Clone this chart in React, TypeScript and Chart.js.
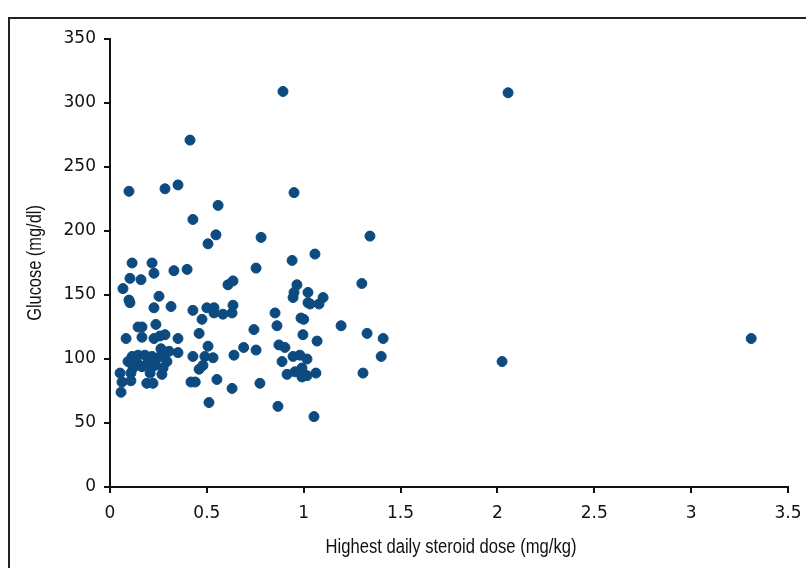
import React, { useEffect, useRef } from "react";
import { Chart, registerables } from "chart.js";

Chart.register(...registerables);

// Highest daily steroid dose (mg/kg)
const doseValues: number[] = [
  0.893, 2.055, 0.413, 0.098, 0.284, 0.351, 0.95, 0.428, 0.558, 0.547,
  0.506, 0.78, 1.342, 1.058, 0.94, 0.114, 0.217, 0.227, 0.33, 0.398,
  0.103, 0.16, 0.067, 0.253, 0.098, 0.103, 0.227, 0.315, 0.428, 0.5,
  0.537, 0.537, 0.583, 0.63, 0.635, 0.609, 0.635, 0.754, 0.965, 0.95,
  0.945, 1.022, 1.022, 1.1, 1.033, 1.079, 1.3, 0.475, 0.237, 0.145,
  0.165, 0.165, 0.227, 0.258, 0.284, 0.083, 0.351, 0.46, 0.852, 0.862,
  0.986, 1.0, 0.996, 0.743, 1.193, 1.069, 1.327, 1.41, 1.4, 1.306,
  0.506, 0.263, 0.305, 0.351, 0.428, 0.49, 0.532, 0.46, 0.48, 0.114,
  0.145, 0.18, 0.217, 0.248, 0.279, 0.294, 0.093, 0.139, 0.19, 0.232,
  0.274, 0.119, 0.165, 0.052, 0.108, 0.207, 0.268, 0.062, 0.108, 0.19,
  0.222, 0.057, 0.418, 0.44, 0.511, 0.69, 0.754, 0.64, 0.872, 0.903,
  0.945, 0.98, 1.017, 0.888, 0.914, 0.955, 0.991, 0.991, 1.017, 1.063,
  0.552, 0.774, 0.63, 0.867, 1.053, 2.024, 3.31,
];

// Glucose (mg/dl)
const glucoseValues: number[] = [
  309, 308, 271, 231, 233, 236, 230, 209, 220, 197,
  190, 195, 196, 182, 177, 175, 175, 167, 169, 170,
  163, 162, 155, 149, 146, 144, 140, 141, 138, 140,
  140, 136, 135, 136, 142, 158, 161, 171, 158, 152,
  148, 152, 144, 148, 143, 143, 159, 131, 127, 125,
  125, 117, 116, 118, 119, 116, 116, 120, 136, 126,
  132, 131, 119, 123, 126, 114, 120, 116, 102, 89,
  110, 108, 106, 105, 102, 102, 101, 92, 95, 102,
  103, 103, 102, 101, 102, 98, 98, 97, 96, 95,
  93, 93, 94, 89, 89, 89, 88, 82, 83, 81,
  81, 74, 82, 82, 66, 109, 107, 103, 111, 109,
  102, 103, 100, 98, 88, 90, 93, 86, 87, 89,
  84, 81, 77, 63, 55, 98, 116,
];

const xTickValues: number[] = [0, 0.5, 1, 1.5, 2, 2.5, 3, 3.5];
const xTickLabels: string[] = ["0", "0.5", "1", "1.5", "2", "2.5", "3", "3.5"];
const yTickValues: number[] = [0, 50, 100, 150, 200, 250, 300, 350];
const yTickLabels: string[] = ["0", "50", "100", "150", "200", "250", "300", "350"];

const xTitle = "Highest daily steroid dose (mg/kg)";
const yTitle = "Glucose (mg/dl)";

const POINT_COLOR = "#0c4a80";
const TEXT_COLOR = "#111";

// Draws the axis titles in a condensed style (horizontally narrowed text).
const condensedTitles = {
  id: "condensedTitles",
  afterDraw(chart: any) {
    const { ctx, chartArea } = chart;
    ctx.save();
    ctx.font = "20px 'Liberation Sans', Arial, sans-serif";
    ctx.fillStyle = TEXT_COLOR;
    ctx.textAlign = "center";
    ctx.textBaseline = "middle";
    ctx.translate((chartArea.left + chartArea.right) / 2 + 2, 547);
    ctx.scale(0.83, 1);
    ctx.fillText(xTitle, 0, 0);
    ctx.restore();

    ctx.save();
    ctx.font = "20px 'Liberation Sans', Arial, sans-serif";
    ctx.fillStyle = TEXT_COLOR;
    ctx.textAlign = "center";
    ctx.textBaseline = "middle";
    ctx.translate(35, (chartArea.top + chartArea.bottom) / 2);
    ctx.rotate(-Math.PI / 2);
    ctx.scale(0.82, 1);
    ctx.fillText(yTitle, 0, 0);
    ctx.restore();
  },
};

export default function App() {
  const canvasRef = useRef<HTMLCanvasElement | null>(null);

  useEffect(() => {
    const canvas = canvasRef.current;
    if (!canvas) return;
    const points = doseValues.map((x, i) => ({ x, y: glucoseValues[i] }));
    const tickFont = { family: "'DejaVu Sans', sans-serif", size: 17 };
    const chart = new Chart(canvas, {
      type: "scatter",
      data: {
        datasets: [
          {
            data: points,
            backgroundColor: POINT_COLOR,
            borderColor: POINT_COLOR,
            borderWidth: 1,
            pointRadius: 5,
            pointHoverRadius: 5,
          },
        ],
      },
      options: {
        animation: false,
        responsive: false,
        devicePixelRatio: 1,
        layout: { padding: { left: 0, top: 39, right: 18, bottom: 0 } },
        plugins: {
          legend: { display: false },
          tooltip: { enabled: false },
        },
        scales: {
          x: {
            type: "linear",
            min: 0,
            max: 3.5,
            afterFit: (scale: any) => {
              scale.height = 81;
              scale.paddingLeft = 0;
              scale.paddingRight = 0;
            },
            afterBuildTicks: (scale: any) => {
              scale.ticks = xTickValues.map((v) => ({ value: v }));
            },
            ticks: {
              color: TEXT_COLOR,
              font: tickFont,
              padding: 10,
              maxRotation: 0,
              autoSkip: false,
              callback: (_v: any, i: number) => xTickLabels[i],
            },
            grid: {
              drawOnChartArea: false,
              drawTicks: true,
              tickLength: 6,
              color: TEXT_COLOR,
              lineWidth: 2,
            },
            border: { display: true, color: TEXT_COLOR, width: 2 },
            title: { display: false },
          },
          y: {
            type: "linear",
            min: 0,
            max: 350,
            afterFit: (scale: any) => {
              scale.width = 110;
              scale.paddingTop = 0;
              scale.paddingBottom = 0;
            },
            afterBuildTicks: (scale: any) => {
              scale.ticks = yTickValues.map((v) => ({ value: v }));
            },
            ticks: {
              color: TEXT_COLOR,
              font: tickFont,
              padding: 8,
              autoSkip: false,
              callback: (_v: any, i: number) => yTickLabels[i],
            },
            grid: {
              drawOnChartArea: false,
              drawTicks: true,
              tickLength: 6,
              color: TEXT_COLOR,
              lineWidth: 2,
            },
            border: { display: true, color: TEXT_COLOR, width: 2 },
            title: { display: false },
          },
        },
      },
      plugins: [condensedTitles],
    });
    return () => chart.destroy();
  }, []);

  return (
    <div
      style={{
        position: "fixed",
        left: 0,
        top: 0,
        width: 806,
        height: 568,
        background: "#fff",
        overflow: "hidden",
      }}
    >
      <div
        style={{
          position: "absolute",
          left: 8,
          top: 17,
          width: 820,
          height: 580,
          borderLeft: "2px solid #222",
          borderTop: "2px solid #222",
        }}
      />
      <canvas
        ref={canvasRef}
        width={806}
        height={568}
        style={{ position: "absolute", left: 0, top: 0, width: 806, height: 568 }}
      />
    </div>
  );
}
